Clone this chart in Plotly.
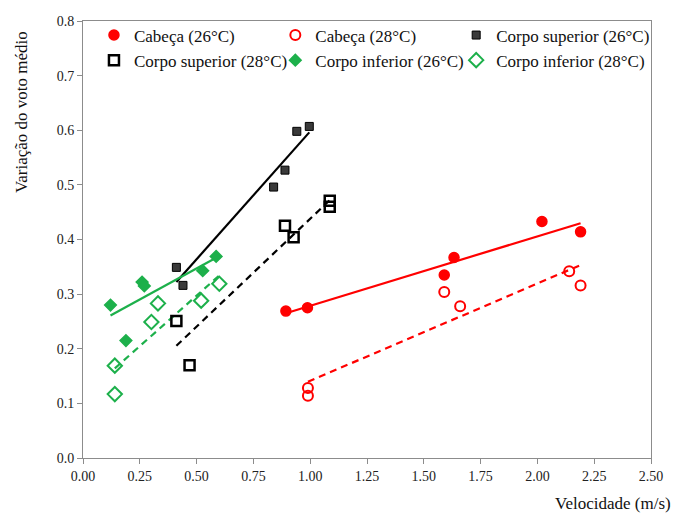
import numpy as np
import plotly.graph_objects as go

# ---- data ----
cab26_x = [0.893, 0.988, 1.59, 1.633, 2.02, 2.19]
cab26_y = [0.269, 0.275, 0.335, 0.367, 0.433, 0.414]

cab28_x = [0.99, 0.99, 1.59, 1.66, 2.14, 2.19]
cab28_y = [0.128, 0.114, 0.304, 0.278, 0.342, 0.316]

sup26_x = [0.411, 0.44, 0.839, 0.889, 0.941, 0.996]
sup26_y = [0.349, 0.316, 0.496, 0.527, 0.598, 0.607]

sup28_x = [0.411, 0.469, 0.889, 0.927, 1.086, 1.086]
sup28_y = [0.251, 0.170, 0.425, 0.404, 0.471, 0.460]

inf26_x = [0.121, 0.189, 0.26, 0.27, 0.527, 0.586]
inf26_y = [0.280, 0.215, 0.322, 0.315, 0.343, 0.369]

inf28_x = [0.14, 0.14, 0.301, 0.33, 0.52, 0.60]
inf28_y = [0.169, 0.117, 0.249, 0.283, 0.288, 0.319]

names = ["Cabeça (26°C)", "Cabeça (28°C)", "Corpo superior (26°C)",
         "Corpo superior (28°C)", "Corpo inferior (26°C)", "Corpo inferior (28°C)"]

x_ticks = [0.0, 0.25, 0.5, 0.75, 1.0, 1.25, 1.5, 1.75, 2.0, 2.25, 2.5]
y_ticks = [0.0, 0.1, 0.2, 0.3, 0.4, 0.5, 0.6, 0.7, 0.8]

RED = "#FF0000"
GREEN = "#1DB04B"
BLACK = "#000000"
DARK = "#3a3a3a"
FONT = "Liberation Serif, Times New Roman, DejaVu Serif, serif"

# (x, y, name, marker, line colour, line style, legend column)
series = [
    (cab26_x, cab26_y, names[0], dict(symbol="circle", size=10, color=RED, line=dict(color=RED, width=1.5)), RED, "solid", "legend"),
    (cab28_x, cab28_y, names[1], dict(symbol="circle-open", size=10, color=RED, line=dict(color=RED, width=2)), RED, "dash", "legend2"),
    (sup26_x, sup26_y, names[2], dict(symbol="square", size=8, color=DARK, line=dict(color=BLACK, width=1)), BLACK, "solid", "legend3"),
    (sup28_x, sup28_y, names[3], dict(symbol="square-open", size=10, color=BLACK, line=dict(color=BLACK, width=2.5)), BLACK, "dash", "legend"),
    (inf26_x, inf26_y, names[4], dict(symbol="diamond", size=9, color=GREEN, line=dict(color=GREEN, width=1.5)), GREEN, "solid", "legend2"),
    (inf28_x, inf28_y, names[5], dict(symbol="diamond-open", size=11, color=GREEN, line=dict(color=GREEN, width=2)), GREEN, "dash", "legend3"),
]

fig = go.Figure()

# trend lines (least squares fit of each series)
for xs, ys, name, mk, lc, dash, lg in series:
    xa = np.array(xs)
    ya = np.array(ys)
    m, b = np.polyfit(xa, ya, 1)
    lx = np.array([xa.min(), xa.max()])
    fig.add_trace(go.Scatter(
        x=lx, y=m * lx + b, mode="lines", showlegend=False, hoverinfo="skip",
        line=dict(color=lc, width=2.2, dash="7px,5px" if dash == "dash" else "solid"),
    ))

for xs, ys, name, mk, lc, dash, lg in series:
    fig.add_trace(go.Scatter(x=xs, y=ys, mode="markers", name=name, marker=mk, legend=lg))

axis_common = dict(
    showline=True, linecolor="#8c8c8c", linewidth=1, mirror=True,
    ticks="outside", ticklen=5, tickcolor="#8c8c8c",
    showgrid=False, zeroline=False,
    tickfont=dict(family=FONT, size=14, color="#222222"),
)


def legend_box(xpos):
    return dict(
        orientation="v", x=xpos, y=1.008, xanchor="left", yanchor="top",
        font=dict(family=FONT, size=17, color="#111111"),
        bgcolor="rgba(255,255,255,0)", itemwidth=30, tracegroupgap=0,
    )


fig.update_layout(
    width=675, height=513,
    margin=dict(l=83, r=22, t=21, b=55),
    paper_bgcolor="white", plot_bgcolor="white",
    font=dict(family=FONT, color="#111111"),
    xaxis=dict(range=[0, 2.5], tickvals=x_ticks, tickformat=".2f", **axis_common),
    yaxis=dict(range=[0, 0.8], tickvals=y_ticks, tickformat=".1f", **axis_common),
    legend=legend_box(0.0193),
    legend2=legend_box(0.3386),
    legend3=legend_box(0.657),
    annotations=[
        dict(text="Velocidade (m/s)", xref="paper", yref="paper", x=1.038, y=-0.103,
             xanchor="right", yanchor="middle", showarrow=False,
             font=dict(family=FONT, size=17, color="#111111")),
        dict(text="Variação do voto médio", xref="paper", yref="paper", x=-0.107, y=0.982,
             xanchor="center", yanchor="top", textangle=-90, showarrow=False,
             font=dict(family=FONT, size=17, color="#111111")),
    ],
)

fig.write_html("out.html")
